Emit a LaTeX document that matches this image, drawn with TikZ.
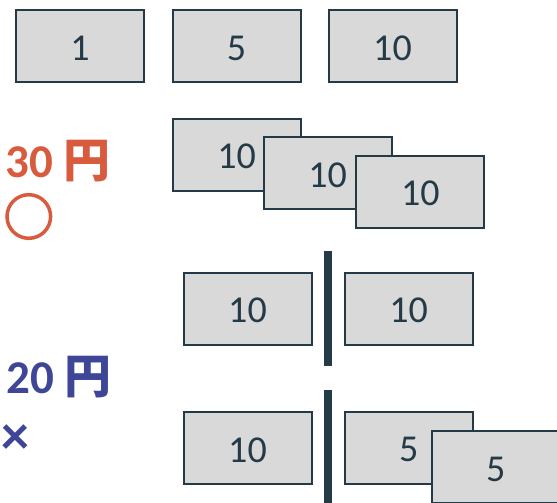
\documentclass[tikz,border=0pt]{standalone}
\usepackage{fontspec}
\setmainfont{Carlito}
\newfontfamily\cjkfont{Noto Sans CJK JP}
\usetikzlibrary{positioning}
\definecolor{boxline}{HTML}{243A47}
\definecolor{boxfill}{HTML}{D9D9D9}
\definecolor{okred}{HTML}{D95B3E}
\definecolor{ngblue}{HTML}{3F4697}
\tikzset{
  coin/.style={draw=boxline, fill=boxfill, line width=2pt, minimum width=128pt, minimum height=72pt,
    inner sep=0pt, text=boxline, font=\fontsize{38}{40}\selectfont, text height=28pt, text depth=0pt},
  divider/.style={draw=boxline, line width=8pt},
  price/.style={anchor=base west, inner sep=0pt, font=\fontsize{47}{50}\selectfont\bfseries},
}
\begin{document}
\begin{tikzpicture}[x=1pt,y=-1pt]
\useasboundingbox (0,0) rectangle (557,503);
\clip (0,0) rectangle (557,503);
% top row
\node[coin] (t1) at (80,46) {1};
\node[coin] (t5) at (236.5,46) {5};
\node[coin] (t10) at (392.5,46) {10};
% stacked 10s
\node[coin] (sa) at (236.7,154.7) {10};
\node[coin] (sb) at (327.7,173.4) {10};
\node[coin] (sc) at (420.4,191.7) {10};
% labels
\node[price, text=okred] (p30) at (5,177) {30 {\cjkfont 円}};
\draw[okred, line width=3.5pt] (28.8,216.5) circle (21.8);
\node[price, text=ngblue] (p20) at (6,393) {20 {\cjkfont 円}};
\node[text=ngblue, inner sep=0pt, font=\fontsize{56}{56}\selectfont\bfseries] (ng) at (15.8,440) {×};
% middle pair
\node[coin] (ml) at (247.5,308.5) {10};
\node[coin] (mr) at (408.7,308.5) {10};
\coordinate (mt) at (328.3,251);
\coordinate (mb) at (328.3,366);
\draw[divider] (mt) -- (mb);
% bottom
\node[coin] (bl) at (247.5,448.2) {10};
\node[coin] (br) at (408.7,447.5) {5};
\node[coin] (bs) at (495.7,467.4) {5};
\coordinate (bt) at (328.3,390);
\coordinate (bb) at (328.3,503);
\draw[divider] (bt) -- (bb);
\end{tikzpicture}
\end{document}
